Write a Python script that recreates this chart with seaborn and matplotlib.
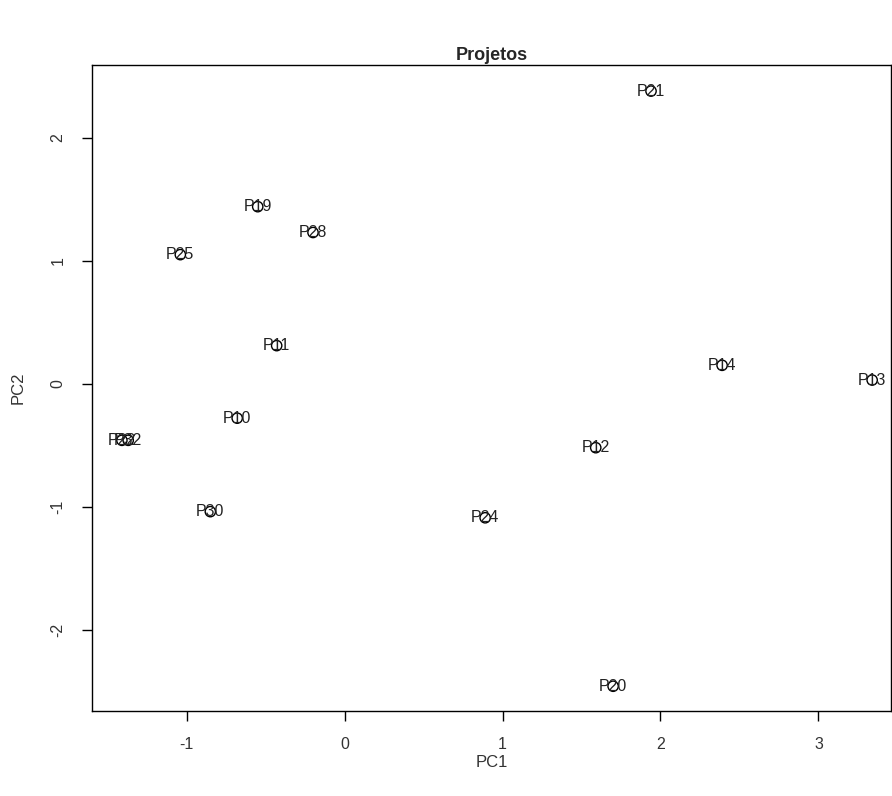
import seaborn as sns
import pandas as pd
import matplotlib.pyplot as plt

# projetos nas duas primeiras componentes principais
labels = ["P21", "P19", "P28", "P25", "P11", "P14", "P13", "P10", "P12",
          "P22", "P32", "P30", "P24", "P20"]
pc1 = [1.94, -0.55, -0.20, -1.04, -0.43, 2.39, 3.34, -0.68, 1.59,
       -1.41, -1.37, -0.85, 0.89, 1.70]
pc2 = [2.38, 1.44, 1.23, 1.05, 0.31, 0.15, 0.03, -0.28, -0.52,
       -0.46, -0.46, -1.04, -1.09, -2.46]

data = pd.DataFrame({"proj": labels, "PC1": pc1, "PC2": pc2})

sns.set_style("ticks")
plt.rcParams['font.family'] = ['Liberation Sans', 'DejaVu Sans']
plt.rcParams['axes.unicode_minus'] = False

fig = plt.figure(figsize=(8.92, 7.96), dpi=100)
ax = fig.add_axes([0.103, 0.107, 0.896, 0.811])

sns.scatterplot(data=data, x="PC1", y="PC2", ax=ax, s=55,
                facecolor="none", edgecolor="black", linewidth=1)
for i, row in data.iterrows():
    ax.text(row["PC1"], row["PC2"], row["proj"], ha="center", va="center",
            fontsize=11.5, color="#222222")

ax.set_xlim(-1.60, 3.46)
ax.set_ylim(-2.66, 2.59)
ax.set_xticks([-1, 0, 1, 2, 3])
ax.set_yticks([-2, -1, 0, 1, 2])
ax.tick_params(axis="both", direction="out", length=7, width=1,
               labelsize=11.5, pad=12, colors="black", labelcolor="#333333")
for lab in ax.get_yticklabels():
    lab.set_rotation(90)
    lab.set_va("center")
for sp in ax.spines.values():
    sp.set_color("black")
    sp.set_linewidth(1)

ax.set_title("Projetos", fontsize=13, fontweight="bold", pad=4)
ax.set_xlabel("PC1", fontsize=12, labelpad=2, color="#333333")
ax.set_ylabel("PC2", fontsize=12, labelpad=18, color="#333333")

fig.savefig("out.png", dpi=100)
